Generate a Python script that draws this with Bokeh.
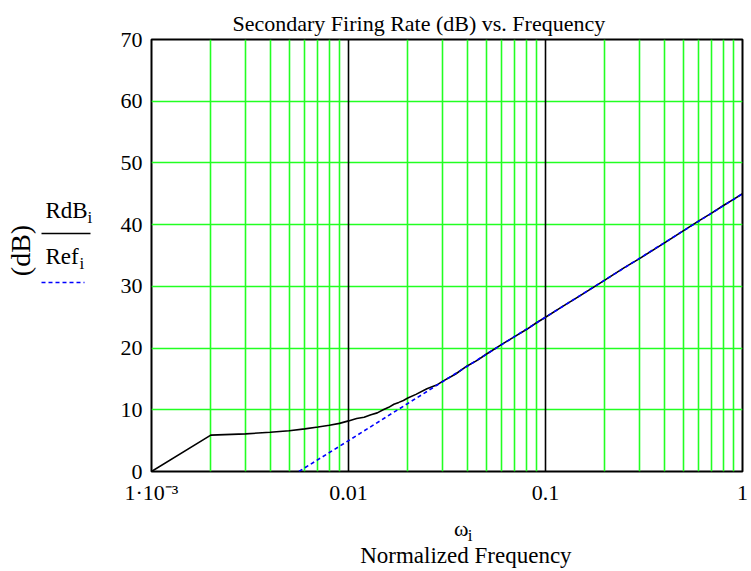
import math
from bokeh.plotting import figure
from bokeh.layouts import row, column
from bokeh.models import FixedTicker
from bokeh.core.properties import value
from bokeh.embed import file_html
from bokeh.resources import INLINE

# ---------------- data ----------------
rdb_w = [0.001, 0.002, 0.003, 0.004, 0.005, 0.006, 0.007, 0.008, 0.009, 0.010,
         0.011, 0.012, 0.013, 0.014, 0.015, 0.016, 0.017, 0.018, 0.019, 0.020,
         0.022, 0.025, 0.028, 0.030, 0.035, 0.040, 0.045, 0.050, 0.060, 0.070,
         0.080, 0.090, 0.100, 0.120, 0.150, 0.200, 0.250, 0.300, 0.400, 0.500,
         0.600, 0.700, 0.800, 0.900, 1.000]
rdb_db = [0.0, 5.9, 6.1, 6.35, 6.6, 6.9, 7.2, 7.5, 7.8, 8.2,
          8.6, 8.8, 9.2, 9.5, 10.0, 10.4, 10.9, 11.2, 11.5, 11.9,
          12.5, 13.4, 14.0, 14.6, 15.8, 17.1, 18.0, 19.0, 20.6, 21.9,
          23.0, 24.1, 25.0, 26.6, 28.5, 31.0, 33.0, 34.5, 37.0, 39.0,
          40.6, 41.9, 43.1, 44.1, 45.0]
ref_w = [0.0056, 0.01, 0.1, 1.0]
ref_db = [0.0, 5.0, 25.0, 45.0]

x_ticks = [0.001, 0.01, 0.1, 1.0]
x_tick_labels = ["1·10⁻³", "0.01", "0.1", "1"]
x_minor = [k * 10.0 ** e for e in (-3, -2, -1) for k in range(2, 10)]
y_ticks = [0, 10, 20, 30, 40, 50, 60, 70]

TITLE = "Secondary Firing Rate (dB) vs. Frequency"
Y_TITLE = "(dB)"
TRACE1, TRACE2, SUB = "RdB", "Ref", "i"
X_NAME = "ω"
X_TITLE = "Normalized Frequency"

# ---------------- layout (page pixels) ----------------
PW, PH = 751, 571          # page
LW = 110                   # left strip (y title + legend)
MH = 510                   # main figure height
FL, FT, FR, FB = 151, 39, 742, 471   # plot frame on the page
FONT = "Liberation Serif"
GREEN = "#22ff22"
BLUE = "#0000ff"

# ---------------- main plot ----------------
p = figure(width=PW - LW, height=MH, x_axis_type="log", x_range=(1e-3, 1.0), y_range=(0, 70),
           output_backend="svg", toolbar_location=None, title=TITLE,
           min_border_left=FL - LW, min_border_top=FT,
           min_border_right=PW - FR, min_border_bottom=MH - FB,
           background_fill_color="white", border_fill_color="white",
           outline_line_color="black", outline_line_width=2)
p.title.text_font = FONT
p.title.text_font_size = "22px"
p.title.text_font_style = "normal"
p.title.text_color = "black"
p.title.align = "left"
p.title.offset = 81
p.title.vertical_align = "top"
p.title.standoff = 4
p.title.text_line_height = 1.0

for ax in (p.xaxis[0], p.yaxis[0]):
    ax.axis_line_color = None
    ax.major_tick_line_color = None
    ax.minor_tick_line_color = None
    ax.major_tick_out = 0
    ax.major_tick_in = 0
    ax.minor_tick_out = 0
    ax.minor_tick_in = 0
    ax.major_label_text_font = FONT
    ax.major_label_text_font_size = "22px"
    ax.major_label_text_color = "black"

xtick = FixedTicker(ticks=x_ticks, minor_ticks=x_minor)
ytick = FixedTicker(ticks=y_ticks)
p.xaxis[0].ticker = xtick
p.xaxis[0].major_label_overrides = dict(zip(x_ticks, x_tick_labels))
p.xaxis[0].major_label_standoff = 8
p.yaxis[0].ticker = ytick
p.yaxis[0].major_label_standoff = 9

xg, yg = p.xgrid[0], p.ygrid[0]
xg.ticker = xtick
yg.ticker = ytick
xg.grid_line_color = "black"
xg.grid_line_width = 1.6
xg.minor_grid_line_color = GREEN
xg.minor_grid_line_width = 1.6
yg.grid_line_color = GREEN
yg.grid_line_width = 1.6
p.center = [yg, xg] + [r for r in p.center if r is not xg and r is not yg]

p.line(rdb_w, rdb_db, line_color="black", line_width=1.6)
p.line(ref_w, ref_db, line_color=BLUE, line_width=1.6, line_dash="4 3")


def plain(width, height, x0, y0):
    # a blank strip whose data units are page pixels (y measured from the page top)
    f = figure(width=width, height=height, x_range=(x0, x0 + width), y_range=(y0 + height, y0),
               output_backend="svg", toolbar_location=None, title=None, min_border=0,
               x_axis_location=None, y_axis_location=None,
               background_fill_color="white", border_fill_color="white",
               outline_line_color=None)
    f.xgrid.visible = False
    f.ygrid.visible = False
    return f


def txt(f, s, px, py, size, align="left", baseline="alphabetic", angle=0.0, color="black"):
    # py is the wanted baseline on the page; the renderer sets glyphs ~0.3 em lower
    if baseline == "alphabetic":
        py = py - 0.3 * size
    f.text(x=[px], y=[py], text=[s], text_font=value(FONT),
           text_font_size=value(f"{size}px"), text_align=align,
           text_baseline=baseline, angle=angle, text_color=color)


# ---------------- left strip: axis title and trace legend ----------------
left = plain(LW, PH, 0, 0)
txt(left, Y_TITLE, 20, 250, 28, align="center", baseline="middle", angle=math.pi / 2)
txt(left, TRACE1, 45, 217, 23)
txt(left, SUB, 87, 222, 17)
left.line(x=[41, 90], y=[233, 233], line_color="black", line_width=1.6)
txt(left, TRACE2, 45, 263, 23)
txt(left, SUB, 79, 268, 17)
left.line(x=[41, 84], y=[282, 282], line_color=BLUE, line_width=1.6, line_dash="4 3")

# ---------------- bottom strip: x axis title ----------------
bottom = plain(PW - LW, PH - MH, LW, MH)
txt(bottom, X_NAME, 446, 535, 22, align="center")
txt(bottom, SUB, 453, 540, 17)
txt(bottom, X_TITLE, 451, 562, 23, align="center")

layout = row(left, column(p, bottom, spacing=0), spacing=0)

open("out.html", "w").write(file_html(layout, INLINE))
